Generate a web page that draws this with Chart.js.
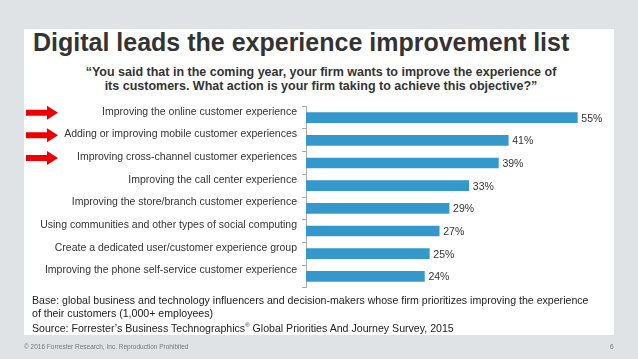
<!DOCTYPE html>
<html>
<head>
<meta charset="utf-8">
<script src="https://cdn.jsdelivr.net/npm/chart.js@4"></script>
<style>
  html, body { margin: 0; padding: 0; }
  body {
    width: 638px; height: 359px; position: relative; overflow: hidden;
    background: #dfe3e6; font-family: "Liberation Sans", Arial, sans-serif;
  }
  #panel { position: absolute; left: 24px; top: 29px; width: 590px; height: 306px; background: #fff; }
  #title {
    position: absolute; left: 33px; top: 30px; font-size: 25px; line-height: 25px;
    font-weight: bold; color: #333; white-space: nowrap;
  }
  #subtitle {
    position: absolute; left: 24px; width: 594px; top: 65px; text-align: center;
    font-size: 12.5px; line-height: 14px; font-weight: bold; color: #333;
  }
  #base {
    position: absolute; left: 32px; top: 294px; font-size: 10.6px; line-height: 12.5px;
    color: #222; white-space: nowrap;
  }
  #footer { position: absolute; left: 24px; top: 343px; font-size: 6.5px; color: #777; }
  #page { position: absolute; left: 610px; top: 343px; font-size: 6.5px; color: #777; }
  #chartBox { position: absolute; left: 0; top: 95px; width: 638px; height: 204px; }
</style>
</head>
<body>
<div id="panel"></div>
<div id="title">Digital leads the experience improvement list</div>
<div id="subtitle">“You said that in the coming year, your firm wants to improve the experience of<br>its customers. What action is your firm taking to achieve this objective?”</div>
<div id="chartBox"><canvas id="myChart"></canvas></div>
<div id="base">Base: global business and technology influencers and decision-makers whose firm prioritizes improving the experience<br>of their customers (1,000+ employees)<br>Source: Forrester’s Business Technographics<sup style="font-size:6px">®</sup> Global Priorities And Journey Survey, 2015</div>
<div id="footer">© 2016 Forrester Research, Inc. Reproduction Prohibited</div>
<div id="page">6</div>
<script>
// Categories and values
const actions = [
  'Improving the online customer experience',
  'Adding or improving mobile customer experiences',
  'Improving cross-channel customer experiences',
  'Improving the call center experience',
  'Improving the store/branch customer experience',
  'Using communities and other types of social computing',
  'Create a dedicated user/customer experience group',
  'Improving the phone self-service customer experience'
];
const shares = [55, 41, 39, 33, 29, 27, 25, 24];
// Rows that get a red arrow
const highlighted = [0, 1, 2];

// Draw the percentages at the end of each bar
const valueLabels = {
  id: 'valueLabels',
  afterDatasetsDraw(chart) {
    const ctx = chart.ctx;
    const meta = chart.getDatasetMeta(0);
    ctx.save();
    ctx.font = '10.5px "Liberation Sans", Arial, sans-serif';
    ctx.fillStyle = '#333';
    ctx.textBaseline = 'middle';
    meta.data.forEach((bar, i) => {
      ctx.fillText(shares[i] + '%', bar.x + 4, bar.y + 1);
    });
    ctx.restore();
  }
};

// Red arrows pointing at the digital rows
const arrows = {
  id: 'arrows',
  afterDraw(chart) {
    const ctx = chart.ctx;
    const y = chart.scales.y;
    ctx.save();
    ctx.fillStyle = '#ee0000';
    highlighted.forEach(i => {
      const cy = y.getPixelForValue(i) - 5;
      ctx.beginPath();
      ctx.moveTo(26, cy - 3);
      ctx.lineTo(47, cy - 3);
      ctx.lineTo(47, cy - 7);
      ctx.lineTo(58, cy);
      ctx.lineTo(47, cy + 7);
      ctx.lineTo(47, cy + 3);
      ctx.lineTo(26, cy + 3);
      ctx.closePath();
      ctx.fill();
    });
    ctx.restore();
  }
};

new Chart(document.getElementById('myChart').getContext('2d'), {
  type: 'bar',
  data: {
    labels: actions,
    datasets: [{
      data: shares,
      backgroundColor: '#3598cd',
      barThickness: 10
    }]
  },
  options: {
    indexAxis: 'y',
    responsive: true,
    maintainAspectRatio: false,
    animation: false,
    layout: { padding: { top: 8, bottom: 4, left: 0, right: 36 } },
    scales: {
      x: { display: false, min: 0, max: 60 },
      y: {
        afterFit: (s) => { s.width = 306; },
        grid: { drawOnChartArea: false, tickLength: 4, color: '#aaa' },
        border: { color: '#aaa' },
        ticks: {
          color: '#333',
          padding: 5,
          labelOffset: -6,
          font: { family: '"Liberation Sans", Arial, sans-serif', size: 10.5 }
        }
      }
    },
    plugins: { legend: { display: false }, tooltip: { enabled: false } }
  },
  plugins: [valueLabels, arrows]
});
</script>
</body>
</html>
